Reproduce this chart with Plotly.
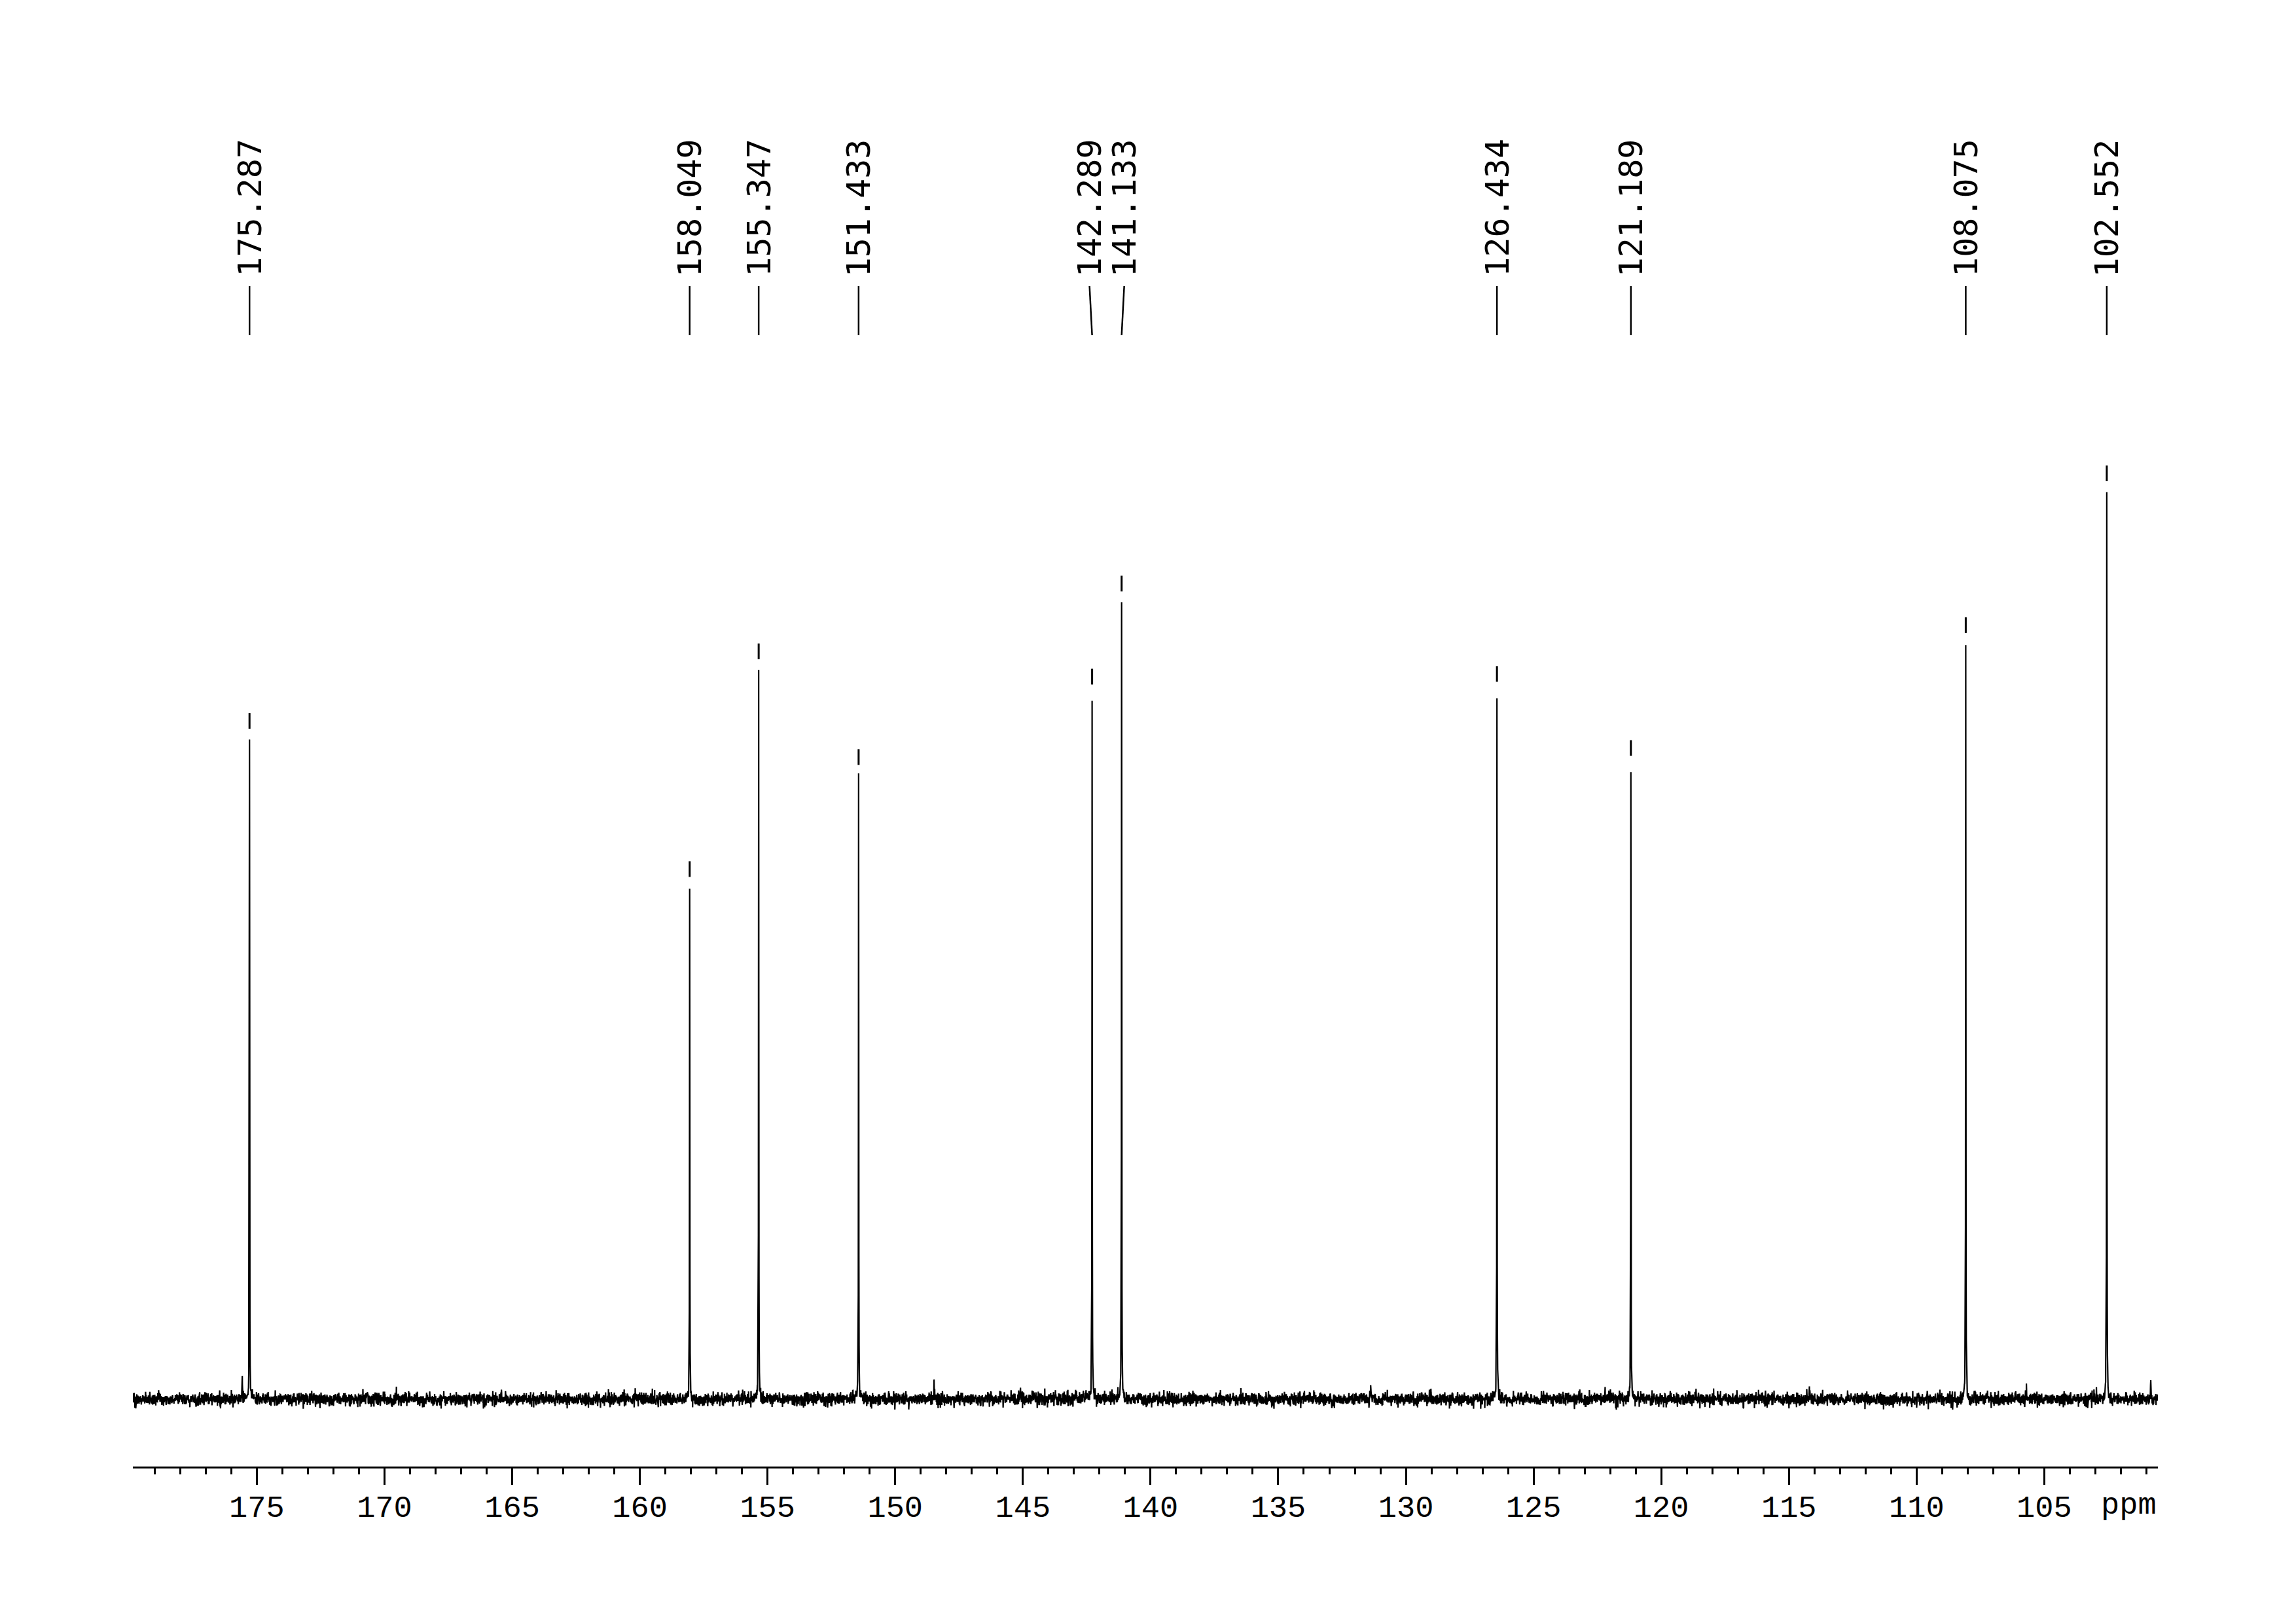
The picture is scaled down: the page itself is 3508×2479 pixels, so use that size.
import numpy as np
import plotly.graph_objects as go

# ---------------- data ----------------
peak_ppm = [175.287, 158.049, 155.347, 151.433, 142.289, 141.133,
            126.434, 121.189, 108.075, 102.552]
peak_height = [72.6, 56.2, 80.3, 68.6, 77.5, 87.8, 77.8, 69.6, 83.2, 100.0]

# small impurity / noise spikes visible on the baseline
minor_ppm = [175.57, 148.48, 145.09, 131.38, 129.02, 114.2, 105.7, 100.83]
minor_height = [2.2, 1.8, 1.3, 1.9, 1.3, 1.0, 1.2, 1.9]

major_ticks = [175, 170, 165, 160, 155, 150, 145, 140, 135, 130, 125, 120, 115, 110, 105]
tick_labels = [str(t) for t in major_ticks]
axis_unit = "ppm"

# ---------------- geometry ----------------
W, H = 3508, 2479
PAGE_OFFSET = 8                  # default body margin of the html page
X_LEFT, X_RIGHT = 179.855, 100.55
AX_L, AX_R = 203, 3297           # plot area in px
TOP_PX, AXIS_PX = 100, 2240
BASE_PX = 2137                   # baseline of spectrum
PX_PER_UNIT = 13.8
PX_PER_PPM = (AX_R - AX_L) / (X_LEFT - X_RIGHT)

plot_h = AXIS_PX - TOP_PX
y_min = -(AXIS_PX - BASE_PX) / PX_PER_UNIT
y_max = (BASE_PX - TOP_PX) / PX_PER_UNIT


def paper_y(px):
    return (AXIS_PX - px) / plot_h


# ---------------- spectrum trace ----------------
hwhm = 0.006
grid = np.arange(X_RIGHT, X_LEFT, 0.008)
x = np.sort(np.concatenate([grid, np.array(peak_ppm), np.array(minor_ppm)]))
spec = np.zeros_like(x)
for c, h in zip(peak_ppm, peak_height):
    spec += h * hwhm**2 / ((x - c) ** 2 + hwhm**2)
for c, h in zip(minor_ppm, minor_height):
    spec += h * (0.01**2) / ((x - c) ** 2 + 0.01**2)
rng = np.random.default_rng(11)
noise_floor = rng.normal(0.0, 0.36, size=x.size)   # instrument noise floor
y = spec + noise_floor

fig = go.Figure()
fig.add_trace(go.Scatter(x=x, y=y, mode="lines",
                         line=dict(color="black", width=2.2),
                         hoverinfo="skip", showlegend=False))

# ---------------- peak labels ----------------
MIN_SEP_PX = 53.0
px = [(X_LEFT - p) * PX_PER_PPM for p in peak_ppm]
clusters = [[i] for i in range(len(px))]
changed = True
pos = {}
while changed:
    changed = False
    for cl in clusters:
        m = np.mean([px[i] for i in cl])
        n = len(cl)
        for k, i in enumerate(cl):
            pos[i] = m + (k - (n - 1) / 2) * MIN_SEP_PX
    for a in range(len(clusters) - 1):
        la = pos[clusters[a][-1]]
        fb = pos[clusters[a + 1][0]]
        if fb - la < MIN_SEP_PX:
            clusters[a] = clusters[a] + clusters[a + 1]
            del clusters[a + 1]
            changed = True
            break
label_ppm = [X_LEFT - pos[i] / PX_PER_PPM for i in range(len(px))]

shapes = []
annotations = []
for p, lp, h in zip(peak_ppm, label_ppm, peak_height):
    annotations.append(dict(
        x=lp, xref="x", y=paper_y(425), yref="paper",
        text=f"{p:.3f}", textangle=-90, showarrow=False,
        xanchor="center", yanchor="bottom",
        font=dict(family="DejaVu Sans Mono", size=50, color="black")))
    shapes.append(dict(type="line", xref="x", yref="paper",
                       x0=lp, y0=paper_y(437), x1=p, y1=paper_y(512),
                       line=dict(color="black", width=2.5)))
    # peak-pick marker above the peak top
    shapes.append(dict(type="line", xref="x", yref="y",
                       x0=p, x1=p, y0=h + 22 / PX_PER_UNIT, y1=h + 46 / PX_PER_UNIT,
                       line=dict(color="black", width=3)))

annotations.append(dict(
    x=101.7, xref="x", y=0, yref="paper", yanchor="top", xanchor="center",
    yshift=-31, text=axis_unit, showarrow=False,
    font=dict(family="Liberation Mono", size=47, color="black")))

fig.update_layout(
    width=W, height=H, autosize=False,
    margin=dict(l=AX_L - PAGE_OFFSET, r=W - AX_R + PAGE_OFFSET,
                t=TOP_PX - PAGE_OFFSET, b=H - AXIS_PX + PAGE_OFFSET, pad=0),
    paper_bgcolor="white", plot_bgcolor="white",
    shapes=shapes, annotations=annotations,
    xaxis=dict(range=[X_LEFT, X_RIGHT], tickmode="array",
               tickvals=major_ticks, ticktext=tick_labels,
               ticks="outside", ticklen=25, tickwidth=2.5, tickcolor="black",
               ticklabelstandoff=-7,
               showline=True, linecolor="black", linewidth=3,
               showgrid=False, zeroline=False,
               tickfont=dict(family="Liberation Mono", size=47, color="black"),
               minor=dict(dtick=1, tick0=0, ticks="outside", ticklen=9,
                          tickwidth=2.5, tickcolor="black", showgrid=False)),
    yaxis=dict(range=[y_min, y_max], visible=False, showgrid=False,
               zeroline=False),
)

fig.write_html("out.html")
